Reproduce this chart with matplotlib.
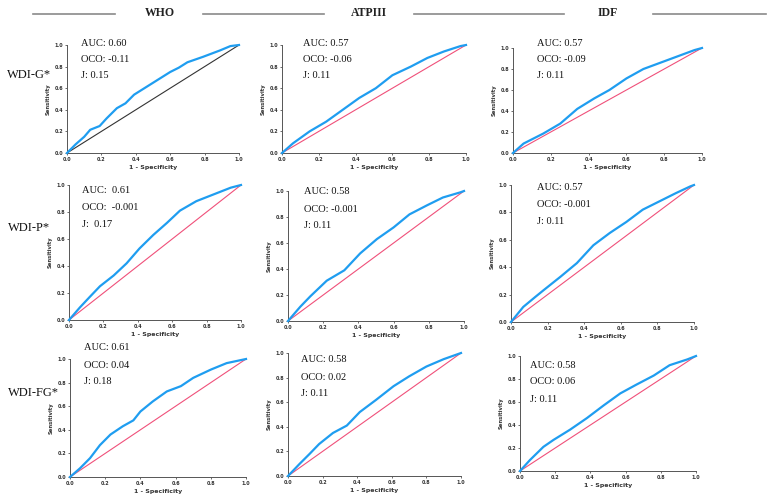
import matplotlib
matplotlib.use("Agg")
import matplotlib.pyplot as plt

# ---------------- data ----------------
criteria = ["WHO", "ATPIII", "IDF"]
indices = ["WDI-G*", "WDI-P*", "WDI-FG*"]

auc_txt = [["AUC: 0.60", "AUC: 0.57", "AUC: 0.57"],
           ["AUC:  0.61", "AUC: 0.58", "AUC: 0.57"],
           ["AUC: 0.61", "AUC: 0.58", "AUC: 0.58"]]
oco_txt = [["OCO: -0.11", "OCO: -0.06", "OCO: -0.09"],
           ["OCO:  -0.001", "OCO: -0.001", "OCO: -0.001"],
           ["OCO: 0.04", "OCO: 0.02", "OCO: 0.06"]]
j_txt = [["J: 0.15", "J: 0.11", "J: 0.11"],
         ["J:  0.17", "J: 0.11", "J: 0.11"],
         ["J: 0.18", "J: 0.11", "J: 0.11"]]

# ROC curves (1 - specificity, sensitivity)
fpr_g_who = [0, 0.05, 0.10, 0.135, 0.19, 0.23, 0.29, 0.34, 0.39, 0.45, 0.50, 0.55, 0.60, 0.65, 0.70, 0.79, 0.89, 0.95, 1.0]
tpr_g_who = [0, 0.08, 0.15, 0.215, 0.25, 0.32, 0.415, 0.46, 0.54, 0.60, 0.65, 0.70, 0.75, 0.79, 0.84, 0.89, 0.95, 0.99, 1.0]
fpr_g_atp = [0, 0.06, 0.15, 0.24, 0.33, 0.42, 0.51, 0.60, 0.70, 0.79, 0.88, 0.97, 1.0]
tpr_g_atp = [0, 0.09, 0.20, 0.29, 0.40, 0.51, 0.60, 0.72, 0.80, 0.88, 0.94, 0.99, 1.0]
fpr_g_idf = [0, 0.056, 0.16, 0.25, 0.34, 0.43, 0.51, 0.60, 0.69, 0.78, 0.87, 0.96, 1.0]
tpr_g_idf = [0, 0.09, 0.185, 0.28, 0.42, 0.52, 0.60, 0.71, 0.80, 0.86, 0.92, 0.98, 1.0]

fpr_p_who = [0, 0.064, 0.12, 0.18, 0.26, 0.335, 0.41, 0.49, 0.57, 0.645, 0.74, 0.84, 0.94, 1.0]
tpr_p_who = [0, 0.094, 0.17, 0.25, 0.33, 0.42, 0.53, 0.63, 0.72, 0.81, 0.88, 0.93, 0.98, 1.0]
fpr_p_atp = [0, 0.07, 0.127, 0.22, 0.32, 0.41, 0.505, 0.60, 0.69, 0.79, 0.88, 0.98, 1.0]
tpr_p_atp = [0, 0.11, 0.19, 0.31, 0.39, 0.52, 0.63, 0.72, 0.82, 0.89, 0.95, 0.99, 1.0]
fpr_p_idf = [0, 0.067, 0.13, 0.176, 0.27, 0.36, 0.45, 0.54, 0.63, 0.72, 0.81, 0.90, 0.98, 1.0]
tpr_p_idf = [0, 0.11, 0.18, 0.23, 0.33, 0.43, 0.56, 0.65, 0.73, 0.82, 0.88, 0.94, 0.99, 1.0]

fpr_fg_who = [0, 0.057, 0.114, 0.17, 0.23, 0.30, 0.36, 0.40, 0.47, 0.55, 0.63, 0.70, 0.80, 0.89, 1.0]
tpr_fg_who = [0, 0.074, 0.16, 0.27, 0.36, 0.43, 0.48, 0.555, 0.64, 0.725, 0.77, 0.84, 0.91, 0.965, 1.0]
fpr_fg_atp = [0, 0.068, 0.125, 0.18, 0.26, 0.34, 0.415, 0.51, 0.61, 0.70, 0.80, 0.90, 0.99, 1.0]
tpr_fg_atp = [0, 0.10, 0.18, 0.26, 0.35, 0.41, 0.52, 0.62, 0.73, 0.81, 0.89, 0.95, 0.995, 1.0]
fpr_fg_idf = [0, 0.057, 0.133, 0.19, 0.285, 0.38, 0.475, 0.57, 0.66, 0.76, 0.85, 0.95, 1.0]
tpr_fg_idf = [0, 0.096, 0.21, 0.27, 0.36, 0.46, 0.57, 0.675, 0.75, 0.83, 0.92, 0.97, 1.0]

curves = [[(fpr_g_who, tpr_g_who), (fpr_g_atp, tpr_g_atp), (fpr_g_idf, tpr_g_idf)],
          [(fpr_p_who, tpr_p_who), (fpr_p_atp, tpr_p_atp), (fpr_p_idf, tpr_p_idf)],
          [(fpr_fg_who, tpr_fg_who), (fpr_fg_atp, tpr_fg_atp), (fpr_fg_idf, tpr_fg_idf)]]

tick_vals = [0.0, 0.2, 0.4, 0.6, 0.8, 1.0]
tick_labels = ["0.0", "0.2", "0.4", "0.6", "0.8", "1.0"]

# ---------------- layout (pixels) ----------------
W, H = 768, 497
boxes = [[(67, 239, 45, 153), (282, 466, 45, 153), (513, 702, 48, 153)],
         [(69, 241, 185, 320), (288, 464, 191, 321), (511, 694, 185, 322)],
         [(70, 246, 359, 477), (288, 461, 353, 476), (520, 696, 356, 471)]]
text_pos = [[(81, 44), (303, 44), (537, 44)],
            [(82, 190), (304, 192), (537, 188)],
            [(84, 348), (301, 360), (530, 365)]]
line_step = [16, 17, 17]
row_label_pos = [(7, 75), (8, 228), (8, 393)]

SERIF = ["Liberation Serif", "DejaVu Serif"]
BLUE = "#1f9df0"
PINK = "#f0507a"

fig = plt.figure(figsize=(W / 100, H / 100), dpi=100)

def fx(x):
    return x / W

def fy(y):
    return 1 - y / H

# header
header_x = [160, 369, 608]
for name, x in zip(criteria, header_x):
    fig.text(fx(x), fy(13), name, ha="center", va="center", family=SERIF,
             fontsize=8.5, fontweight="bold", color="#222222")
for x0, x1 in [(33, 115), (203, 324), (414, 564), (653, 766)]:
    fig.add_artist(plt.Line2D([fx(x0), fx(x1)], [fy(14), fy(14)],
                              transform=fig.transFigure, color="#8a8a8a", lw=1.2))

for r in range(3):
    lx, ly = row_label_pos[r]
    fig.text(fx(lx), fy(ly), indices[r], ha="left", va="center", family=SERIF,
             fontsize=9, color="#111111")
    for c in range(3):
        x0, x1, yt, yb = boxes[r][c]
        ax = fig.add_axes([fx(x0), fy(yb), (x1 - x0) / W, (yb - yt) / H])
        fpr, tpr = curves[r][c]
        diag_col = "#333333" if (r == 0 and c == 0) else PINK
        ax.plot([0, 1], [0, 1], color=diag_col, lw=0.8, clip_on=False, zorder=2)
        ax.plot(fpr, tpr, color=BLUE, lw=1.6, clip_on=False, zorder=3,
                solid_joinstyle="round")
        ax.set_xlim(0, 1)
        ax.set_ylim(0, 1)
        for s in ["top", "right"]:
            ax.spines[s].set_visible(False)
        for s in ["left", "bottom"]:
            ax.spines[s].set_color("#555555")
            ax.spines[s].set_linewidth(0.7)
        ax.set_xticks(tick_vals)
        ax.set_xticklabels(tick_labels)
        ax.set_yticks(tick_vals)
        ax.set_yticklabels(tick_labels)
        ax.tick_params(length=1.2, width=0.5, pad=1.5, labelsize=3.5,
                       colors="#333333")
        for lab in ax.get_xticklabels() + ax.get_yticklabels():
            lab.set_fontweight("bold")
        ax.set_ylabel("Sensitivity", fontsize=3.8, fontweight="bold",
                      color="#333333", labelpad=3)
        ax.set_xlabel("1 - Specificity", fontsize=4.5, fontweight="bold",
                      color="#333333", labelpad=2)
        tx, ty = text_pos[r][c]
        for k, t in enumerate([auc_txt[r][c], oco_txt[r][c], j_txt[r][c]]):
            fig.text(fx(tx), fy(ty + k * line_step[r]), t, ha="left", va="center",
                     family=SERIF, fontsize=7.5, color="#111111")

fig.savefig("out.png", dpi=100, facecolor="white")
